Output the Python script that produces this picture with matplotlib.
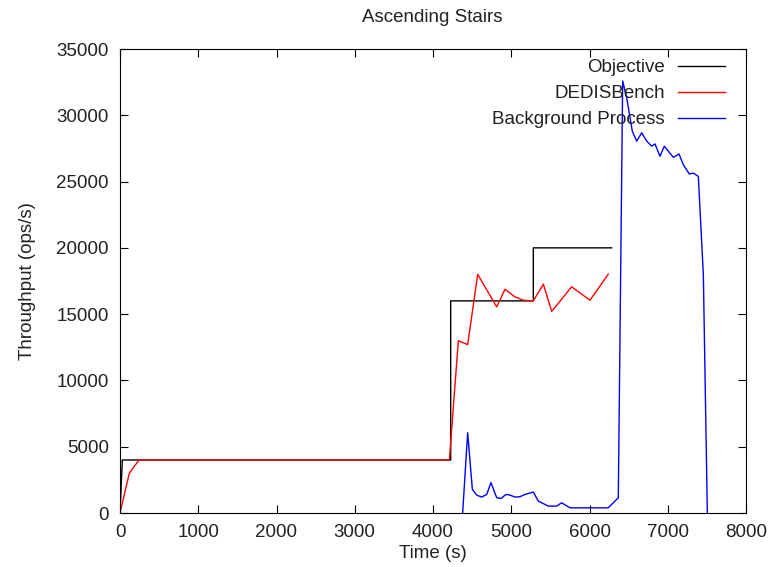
import matplotlib
matplotlib.use("Agg")
import matplotlib.pyplot as plt

plt.rcParams['font.family'] = ['Liberation Sans', 'DejaVu Sans']

title = "Ascending Stairs"
xlabel = "Time (s)"
ylabel = "Throughput (ops/s)"
xticks = [0, 1000, 2000, 3000, 4000, 5000, 6000, 7000, 8000]
yticks = [0, 5000, 10000, 15000, 20000, 25000, 30000, 35000]

obj_t = [0, 30, 4226, 4226, 5282, 5282, 6283]
obj_v = [0, 4000, 4000, 16000, 16000, 20000, 20000]

ded_t = [0, 119, 243, 4209, 4324, 4443, 4571, 4814, 4920, 5048, 5154, 5282,
         5410, 5517, 5772, 6006, 6240]
ded_v = [0, 3000, 4000, 4000, 13000, 12700, 18000, 15550, 16880, 16300, 16050,
         16000, 17260, 15210, 17060, 16050, 18020]

bg_t = [4379, 4443, 4503, 4558, 4622, 4686, 4741, 4814, 4869, 4933, 4984, 5048,
        5112, 5176, 5282, 5346, 5473, 5580, 5644, 5751, 6006, 6240, 6368, 6424,
        6475, 6547, 6603, 6667, 6731, 6795, 6837, 6901, 6956, 7071, 7144, 7199,
        7276, 7327, 7391, 7455, 7506]
bg_v = [0, 6060, 1780, 1350, 1200, 1400, 2290, 1150, 1100, 1400, 1350, 1200,
        1230, 1400, 1580, 900, 520, 520, 770, 390, 390, 390, 1150, 32590,
        31330, 28800, 28050, 28680, 28050, 27670, 27840, 26910, 27670, 26830,
        27080, 26270, 25570, 25640, 25390, 17940, 0]

FS = 13.5
fig = plt.figure(figsize=(7.71, 5.67), dpi=100)
ax = fig.add_axes([120/771, 1-513/567, 626/771, 464/567])

ax.plot(obj_t, obj_v, color='black', lw=1.0, label='Objective')
ax.plot(ded_t, ded_v, color='#ff0000', lw=1.0, label='DEDISBench')
ax.plot(bg_t, bg_v, color='#0000ff', lw=1.0, label='Background Process')

ax.set_xlim(0, 8000)
ax.set_ylim(0, 35000)
ax.set_xticks(xticks)
ax.set_yticks(yticks)
ax.tick_params(direction='in', top=True, right=True, length=6, labelsize=FS,
               labelcolor='#222222')
ax.tick_params(axis='x', pad=8)
ax.tick_params(axis='y', pad=8)
ax.set_xlabel(xlabel, fontsize=FS, labelpad=3, color='#222222')
ax.set_ylabel(ylabel, fontsize=FS, labelpad=15, color='#222222')
fig.text(432/771, 1-18/567, title, ha='center', va='center', fontsize=FS,
         color='#222222')

leg = ax.legend(loc='upper right', bbox_to_anchor=(0.9784, 0.994),
                markerfirst=False, frameon=False, fontsize=FS,
                handlelength=2.5, labelspacing=0.47, borderaxespad=0.0,
                handletextpad=0.7)
for t in leg.get_texts():
    t.set_color('#222222')

fig.savefig("out.png", dpi=100)
